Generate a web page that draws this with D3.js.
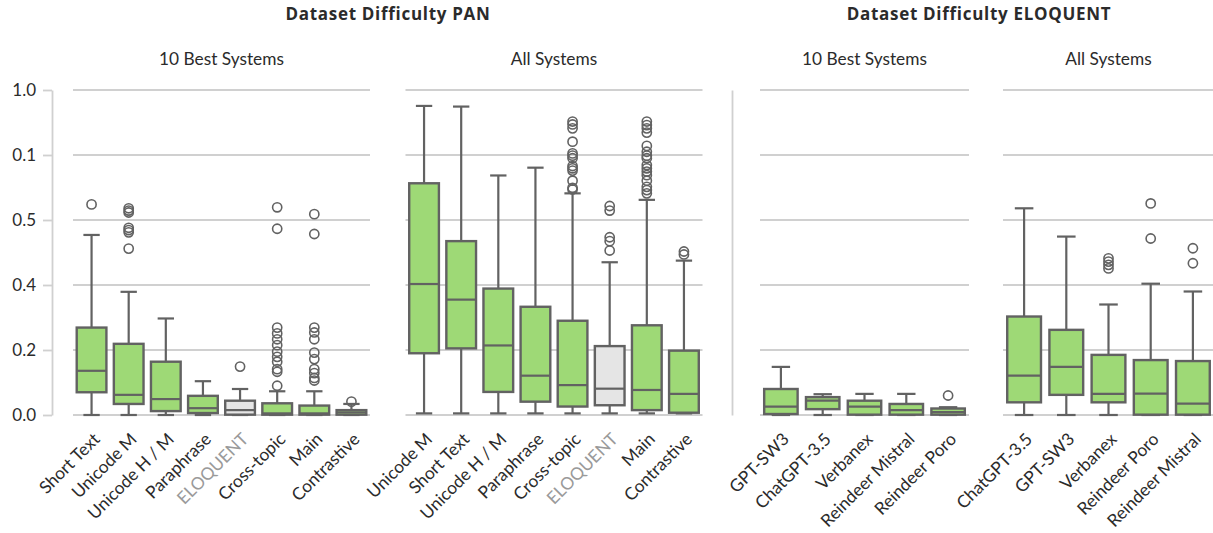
<!DOCTYPE html>
<html>
<head>
<meta charset="utf-8">
<script src="https://cdn.jsdelivr.net/npm/d3@7"></script>
<style>
  html, body { margin: 0; padding: 0; background: #fff; }
  svg { display: block; font-family: "Lato", "Open Sans", sans-serif; }
</style>
</head>
<body>
<svg id="chart" width="1213" height="533"></svg>
<script>
// Tick values on the shared y axis and the labels printed beside them
const yTickValues = [0, 0.2, 0.4, 0.6, 0.8, 1.0];
const yTickLabels = ["0.0", "0.2", "0.4", "0.5", "0.1", "1.0"];

// Box statistics per system: [lower whisker, Q1, median, Q3, upper whisker]
const panTopCategories = ["Short Text", "Unicode M", "Unicode H / M", "Paraphrase", "ELOQUENT", "Cross-topic", "Main", "Contrastive"];
const panTopStats = [
  [0.0, 0.070, 0.136, 0.269, 0.554],
  [0.0, 0.034, 0.062, 0.219, 0.379],
  [0.0, 0.012, 0.049, 0.164, 0.297],
  [0.0, 0.006, 0.021, 0.059, 0.104],
  [0.0, 0.001, 0.015, 0.044, 0.080],
  [0.0, 0.001, 0.005, 0.036, 0.073],
  [0.0, 0.001, 0.005, 0.029, 0.073],
  [0.0, 0.001, 0.008, 0.015, 0.034]
];
const panTopOutliers = [
  [0.648],
  [0.636, 0.629, 0.623, 0.576, 0.569, 0.562, 0.512],
  [],
  [],
  [0.149],
  [0.639, 0.573, 0.269, 0.251, 0.233, 0.215, 0.195, 0.179, 0.164, 0.141, 0.133, 0.090],
  [0.618, 0.557, 0.269, 0.254, 0.233, 0.192, 0.172, 0.141, 0.129, 0.114, 0.106],
  [0.041]
];

const panAllCategories = ["Unicode M", "Short Text", "Unicode H / M", "Paraphrase", "Cross-topic", "ELOQUENT", "Main", "Contrastive"];
const panAllStats = [
  [0.005, 0.190, 0.403, 0.713, 0.951],
  [0.005, 0.205, 0.355, 0.535, 0.949],
  [0.005, 0.071, 0.214, 0.389, 0.737],
  [0.005, 0.041, 0.121, 0.333, 0.761],
  [0.005, 0.026, 0.092, 0.290, 0.682],
  [0.005, 0.030, 0.081, 0.212, 0.470],
  [0.005, 0.015, 0.077, 0.276, 0.662],
  [0.005, 0.007, 0.065, 0.198, 0.475]
];
const panAllOutliers = [
  [],
  [],
  [],
  [],
  [0.903, 0.894, 0.882, 0.841, 0.805, 0.798, 0.790, 0.766, 0.759, 0.752, 0.721, 0.699, 0.694],
  [0.643, 0.629, 0.547, 0.535, 0.506],
  [0.903, 0.892, 0.882, 0.869, 0.828, 0.810, 0.798, 0.790, 0.769, 0.759, 0.749, 0.738, 0.721, 0.702, 0.692, 0.682],
  [0.503, 0.494]
];

const eloTopCategories = ["GPT-SW3", "ChatGPT-3.5", "Verbanex", "Reindeer Mistral", "Reindeer Poro"];
const eloTopStats = [
  [0.0, 0.003, 0.026, 0.080, 0.148],
  [0.0, 0.018, 0.044, 0.055, 0.064],
  [0.0, 0.001, 0.026, 0.044, 0.065],
  [0.0, 0.001, 0.015, 0.034, 0.065],
  [0.0, 0.001, 0.009, 0.020, 0.024]
];
const eloTopOutliers = [[], [], [], [], [0.060]];

const eloAllCategories = ["ChatGPT-3.5", "GPT-SW3", "Verbanex", "Reindeer Poro", "Reindeer Mistral"];
const eloAllStats = [
  [0.0, 0.039, 0.121, 0.303, 0.636],
  [0.0, 0.062, 0.148, 0.262, 0.549],
  [0.0, 0.039, 0.065, 0.185, 0.340],
  [0.0, 0.001, 0.066, 0.169, 0.404],
  [0.0, 0.001, 0.035, 0.166, 0.380]
];
const eloAllOutliers = [[], [], [0.482, 0.472, 0.462, 0.451], [0.651, 0.543], [0.513, 0.467]];

// Dataset groups and their subplots
const groupTitles = [
  { text: "Dataset Difficulty PAN", cx: 388 },
  { text: "Dataset Difficulty ELOQUENT", cx: 979 }
];
const panels = [
  { title: "10 Best Systems", cats: panTopCategories, stats: panTopStats, outliers: panTopOutliers, x0: 73, x1: 370, axisX: 52, ticks: true },
  { title: "All Systems", cats: panAllCategories, stats: panAllStats, outliers: panAllOutliers, x0: 405.5, x1: 702.5, axisX: null, ticks: false },
  { title: "10 Best Systems", cats: eloTopCategories, stats: eloTopStats, outliers: eloTopOutliers, x0: 760, x1: 969, axisX: 732, ticks: false },
  { title: "All Systems", cats: eloAllCategories, stats: eloAllStats, outliers: eloAllOutliers, x0: 1003, x1: 1214, axisX: null, ticks: false }
];

const highlight = "ELOQUENT";
const boxFill = "#9ed976";
const highlightFill = "#e5e5e5";
const lineColor = "#626262";
const gridColor = "#d0d0d0";
const textColor = "#2b2b2b";

const svg = d3.select("#chart");
const y = d3.scaleLinear().domain([0, 1]).range([415, 90]);

// Group titles
svg.selectAll("text.group-title")
  .data(groupTitles)
  .join("text")
  .attr("class", "group-title")
  .attr("x", d => d.cx)
  .attr("y", 20)
  .attr("text-anchor", "middle")
  .attr("font-family", "'Open Sans', sans-serif")
  .attr("font-size", 17)
  .attr("letter-spacing", 0.7)
  .attr("font-weight", "bold")
  .attr("fill", textColor)
  .text(d => d.text);

panels.forEach(p => {
  const g = svg.append("g");
  const x = d3.scaleBand().domain(p.cats).range([p.x0, p.x1]).paddingInner(0.2).paddingOuter(0.1);
  const bw = x.bandwidth();
  const cxOf = c => x(c) + bw / 2;

  // Subplot title
  g.append("text")
    .attr("x", (p.x0 + p.x1) / 2)
    .attr("y", 65)
    .attr("text-anchor", "middle")
    .attr("font-size", 17.3)
    .attr("fill", textColor)
    .text(p.title);

  // Horizontal grid
  g.selectAll("line.grid")
    .data(yTickValues)
    .join("line")
    .attr("x1", p.x0).attr("x2", p.x1)
    .attr("y1", d => y(d)).attr("y2", d => y(d))
    .attr("stroke", gridColor)
    .attr("stroke-width", 1.8);

  // Vertical axis line (offset to the left of the plotting area)
  if (p.axisX !== null) {
    const axis = d3.axisLeft(y)
      .tickValues(yTickValues)
      .tickFormat((d, i) => p.ticks ? yTickLabels[i] : "")
      .tickSize(p.ticks ? 9 : 0)
      .tickSizeOuter(0)
      .tickPadding(7);
    const ag = g.append("g").attr("transform", `translate(${p.axisX},0)`).call(axis);
    ag.select(".domain").attr("stroke", gridColor).attr("stroke-width", 1.8);
    ag.selectAll(".tick line").attr("stroke", gridColor).attr("stroke-width", 1.8);
    ag.selectAll(".tick text")
      .attr("font-size", 17)
      .attr("font-family", "Lato, sans-serif")
      .attr("fill", textColor);
  }

  const rows = p.cats.map((c, i) => ({ cat: c, s: p.stats[i], out: p.outliers[i] }));
  const capW = bw * 0.55;

  const box = g.selectAll("g.box").data(rows).join("g").attr("class", "box");

  // Whiskers
  box.append("line")
    .attr("x1", d => cxOf(d.cat)).attr("x2", d => cxOf(d.cat))
    .attr("y1", d => y(d.s[0])).attr("y2", d => y(d.s[1]))
    .attr("stroke", lineColor).attr("stroke-width", 2.2);
  box.append("line")
    .attr("x1", d => cxOf(d.cat)).attr("x2", d => cxOf(d.cat))
    .attr("y1", d => y(d.s[3])).attr("y2", d => y(d.s[4]))
    .attr("stroke", lineColor).attr("stroke-width", 2.2);
  // Caps
  [0, 4].forEach(k => {
    box.append("line")
      .attr("x1", d => cxOf(d.cat) - capW / 2).attr("x2", d => cxOf(d.cat) + capW / 2)
      .attr("y1", d => y(d.s[k])).attr("y2", d => y(d.s[k]))
      .attr("stroke", lineColor).attr("stroke-width", 2.2);
  });
  // Box body
  box.append("rect")
    .attr("x", d => x(d.cat))
    .attr("width", bw)
    .attr("y", d => y(d.s[3]))
    .attr("height", d => Math.max(0.5, y(d.s[1]) - y(d.s[3])))
    .attr("fill", d => d.cat === highlight ? highlightFill : boxFill)
    .attr("stroke", lineColor)
    .attr("stroke-width", 2.4);
  // Median
  box.append("line")
    .attr("x1", d => x(d.cat)).attr("x2", d => x(d.cat) + bw)
    .attr("y1", d => y(d.s[2])).attr("y2", d => y(d.s[2]))
    .attr("stroke", lineColor).attr("stroke-width", 2.2);
  // Outliers
  box.selectAll("circle")
    .data(d => d.out.map(v => ({ cat: d.cat, v })))
    .join("circle")
    .attr("cx", d => cxOf(d.cat))
    .attr("cy", d => y(d.v))
    .attr("r", 4.6)
    .attr("fill", "none")
    .attr("stroke", lineColor)
    .attr("stroke-width", 1.6);

  // Rotated category labels
  g.selectAll("text.cat")
    .data(p.cats)
    .join("text")
    .attr("class", "cat")
    .attr("transform", c => `translate(${cxOf(c) + 5},${436}) rotate(-45)`)
    .attr("text-anchor", "end")
    .attr("dy", "0.35em")
    .attr("font-size", 17.3)
    .attr("fill", c => c === highlight ? "#9a9a9a" : textColor)
    .text(c => c);
});
</script>
</body>
</html>
